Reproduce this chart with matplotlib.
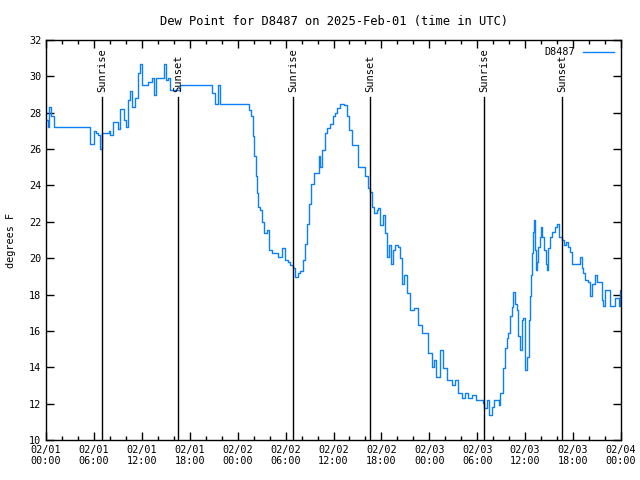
import matplotlib
matplotlib.use("Agg")
import matplotlib.pyplot as plt
from matplotlib.ticker import MultipleLocator

# hours since 2025-02-01 00:00 UTC
horas = [0.0, 0.25, 0.4, 0.6, 1.0, 5.26, 5.5, 5.9, 6.0, 6.26, 6.5, 6.76, 7.0, 7.9, 8.0,
         8.4, 8.9, 9.0, 9.27, 9.77, 10.0, 10.27, 10.5, 10.77, 11.14, 11.52, 11.77, 12.0,
         12.5, 12.77, 13.27, 13.5, 13.77, 14.65, 14.78, 15.0, 15.28, 15.53, 16.5, 16.78,
         20.5, 20.8, 21.16, 21.54, 21.8, 25.17, 25.4, 25.67, 25.92, 26.05, 26.3, 26.42,
         26.55, 26.8, 27.05, 27.3, 27.67, 27.92, 28.3, 28.67, 29.05, 29.55, 29.93, 30.3,
         30.55, 30.93, 31.18, 31.55, 31.8, 32.18, 32.43, 32.68, 32.93, 33.18, 33.56,
         33.93, 34.18, 34.3, 34.56, 34.94, 35.19, 35.56, 35.94, 36.19, 36.44, 36.81,
         37.31, 37.69, 37.94, 38.32, 38.69, 39.07, 39.57, 39.94, 40.32, 40.57, 40.82,
         41.07, 41.45, 41.57, 41.82, 42.2, 42.45, 42.7, 42.95, 43.2, 43.45, 43.7, 44.08,
         44.33, 44.58, 44.83, 45.2, 45.58, 46.08, 46.58, 47.08, 47.83, 48.33, 48.58,
         48.83, 49.34, 49.71, 50.21, 50.84, 51.21, 51.59, 52.09, 52.47, 52.84, 53.34,
         53.84, 54.72, 54.85, 55.22, 55.47, 55.85, 56.1, 56.47, 56.72, 56.85, 57.22,
         57.48, 57.73, 57.85, 58.1, 58.35, 58.48, 58.73, 58.98, 59.1, 59.36, 59.6,
         59.73, 59.98, 60.23, 60.48, 60.61, 60.73, 60.86, 60.98, 61.1, 61.23, 61.36,
         61.48, 61.61, 61.86, 61.98, 62.1, 62.36, 62.61, 62.74, 62.86, 63.11, 63.36,
         63.74, 63.99, 64.24, 64.61, 64.86, 65.11, 65.37, 65.62, 65.87, 66.74, 66.87,
         67.12, 67.24, 67.49, 67.87, 68.12, 68.37, 68.75, 69.0, 69.37, 69.62, 69.75,
         70.0, 70.37, 70.62, 71.0, 71.25, 71.62, 71.75, 71.87, 72.0]
orvalho = [27.6, 27.2, 28.3, 27.8, 27.2, 27.2, 26.3, 26.3, 27.0, 26.9, 26.8, 26.0, 26.9,
           27.0, 26.8, 27.5, 27.5, 27.1, 28.2, 27.6, 27.2, 28.7, 29.2, 28.3, 28.8, 30.2,
           30.7, 29.5, 29.5, 29.7, 29.9, 29.0, 29.9, 29.9, 30.7, 29.8, 29.9, 29.25, 29.25,
           29.5, 29.5, 29.1, 28.5, 29.5, 28.5, 28.5, 28.15, 27.8, 26.7, 25.6, 24.5, 23.6,
           22.8, 22.65, 22.0, 21.4, 21.55, 20.45, 20.3, 20.3, 20.05, 20.55, 19.9, 19.8,
           19.6, 19.45, 18.95, 19.2, 19.3, 19.9, 20.8, 21.9, 23.0, 24.1, 24.7, 24.7, 25.6,
           25.0, 25.95, 26.9, 27.15, 27.4, 27.8, 28.0, 28.25, 28.5, 28.4, 27.8, 27.05,
           26.2, 26.2, 25.0, 25.0, 24.5, 23.85, 23.65, 22.8, 22.5, 22.65, 22.75, 21.8,
           22.35, 21.4, 20.05, 20.7, 19.7, 20.45, 20.7, 20.6, 20.0, 18.6, 19.05, 18.1,
           17.15, 17.25, 16.3, 15.9, 14.8, 14.0, 14.4, 13.45, 14.95, 13.95, 13.3, 13.0,
           13.3, 12.6, 12.3, 12.6, 12.3, 12.5, 12.2, 12.05, 11.75, 12.2, 11.4, 11.8, 12.2,
           12.2, 11.9, 12.6, 13.95, 15.05, 15.6, 15.9, 16.8, 17.3, 18.15, 17.5, 17.15,
           15.7, 14.95, 16.6, 16.7, 13.85, 14.55, 16.6, 17.9, 19.1, 20.3, 21.45, 22.1,
           20.45, 19.35, 19.8, 20.6, 21.15, 21.7, 21.15, 20.45, 19.7, 19.35, 20.55, 21.15,
           21.45, 21.7, 21.9, 21.15, 21.0, 20.7, 20.9, 20.6, 20.35, 19.7, 19.7, 20.05,
           19.45, 19.2, 18.8, 18.7, 17.9, 18.6, 19.05, 18.7, 18.7, 17.7, 17.35, 18.25,
           18.25, 17.35, 17.35, 17.8, 17.8, 17.35, 18.25, 18.1]

eventos_horas = [7.0, 16.5, 30.9, 40.55, 54.9, 64.6]
eventos_nomes = ["Sunrise", "Sunset", "Sunrise", "Sunset", "Sunrise", "Sunset"]

ticks_x = [0, 6, 12, 18, 24, 30, 36, 42, 48, 54, 60, 66, 72]
rotulos_x = ["02/01\n00:00", "02/01\n06:00", "02/01\n12:00", "02/01\n18:00",
             "02/02\n00:00", "02/02\n06:00", "02/02\n12:00", "02/02\n18:00",
             "02/03\n00:00", "02/03\n06:00", "02/03\n12:00", "02/03\n18:00",
             "02/04\n00:00"]

plt.rcParams['font.family'] = ['DejaVu Sans Mono']
plt.rcParams['font.size'] = 7.3

fig = plt.figure(figsize=(6.4, 4.8), dpi=100)
ax = fig.add_axes([46/640, 40/480, 575/640, 400/480])

ax.plot(horas, orvalho, color='#0a80ff', lw=1, label='D8487', drawstyle='steps-post')

# linhas de nascer/por do sol
topo_linha = 28.85
for h, nome in zip(eventos_horas, eventos_nomes):
    ax.plot([h, h], [10, topo_linha], color='black', lw=1)
    ax.text(h, topo_linha + 0.3, nome, rotation=90, ha='center', va='bottom', fontsize=7.5)

ax.set_xlim(0, 72)
ax.set_ylim(10, 32)
ax.set_xticks(ticks_x)
ax.set_xticklabels(rotulos_x)
ax.xaxis.set_minor_locator(MultipleLocator(2))
ax.yaxis.set_major_locator(MultipleLocator(2))
ax.tick_params(which='both', direction='in', top=True, right=True, width=1)
ax.tick_params(which='major', length=6)
ax.tick_params(which='minor', length=3)
for s in ax.spines.values():
    s.set_linewidth(1)

ax.set_title('Dew Point for D8487 on 2025-Feb-01 (time in UTC)', pad=11)
ax.set_ylabel('degrees F', labelpad=9)

ax.legend(loc='upper right', frameon=False, markerfirst=False, handlelength=3.0,
          borderaxespad=0.3)

fig.savefig('out.png', dpi=100)
